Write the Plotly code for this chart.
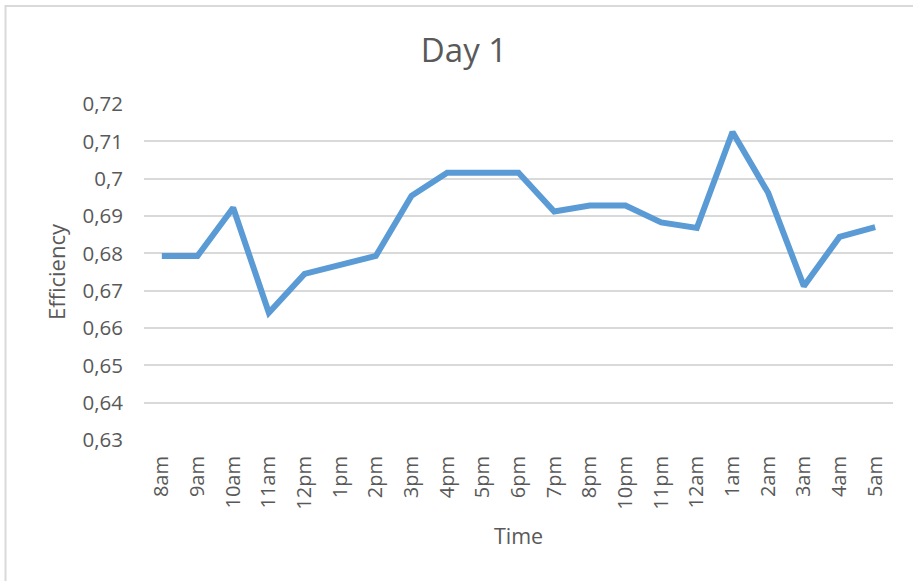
import plotly.graph_objects as go

times = ["8am", "9am", "10am", "11am", "12pm", "1pm", "2pm", "3pm", "4pm", "5pm", "6pm",
         "7pm", "8pm", "10pm", "11pm", "12am", "1am", "2am", "3am", "4am", "5am"]
efficiency = [0.6793, 0.6793, 0.6922, 0.6641, 0.6745, 0.6768, 0.6793, 0.6954, 0.7016, 0.7016, 0.7016,
              0.6912, 0.6928, 0.6928, 0.6883, 0.6868, 0.7125, 0.6962, 0.6712, 0.6844, 0.6870]
ytick_vals = [0.63, 0.64, 0.65, 0.66, 0.67, 0.68, 0.69, 0.70, 0.71, 0.72]
ytick_text = ["0,63", "0,64", "0,65", "0,66", "0,67", "0,68", "0,69", "0,7", "0,71", "0,72"]

FONT = "Open Sans"
GRAY = "#595959"

fig = go.Figure()
fig.add_trace(go.Scatter(
    x=times, y=efficiency, mode="lines",
    line=dict(color="#5b9bd5", width=6, shape="linear"),
    hoverinfo="x+y",
))

fig.update_layout(
    width=913, height=581,
    margin=dict(l=144, r=20, t=104, b=141, autoexpand=False),
    paper_bgcolor="white", plot_bgcolor="white",
    showlegend=False,
    separators=", ",
    title=dict(text="Day 1", x=464 / 913, xanchor="center", y=1 - 50 / 581, yanchor="middle",
               xref="container", yref="container", font=dict(family=FONT, size=33, color=GRAY)),
    xaxis=dict(
        type="category", range=[-0.5, len(times) - 0.5], automargin=False,
        showgrid=False, zeroline=False, showline=False,
        tickangle=-90, tickfont=dict(family=FONT, size=20, color=GRAY),
        ticks="outside", ticklen=7, tickcolor="rgba(0,0,0,0)",
        title=dict(text="Time", font=dict(family=FONT, size=21.5, color=GRAY), standoff=20),
    ),
    yaxis=dict(
        range=[0.63, 0.72], automargin=False,
        showgrid=True, gridcolor="#d9d9d9", gridwidth=1.5,
        zeroline=False, showline=False,
        tickvals=ytick_vals, ticktext=ytick_text,
        tickfont=dict(family=FONT, size=20.5, color=GRAY),
        ticklabelstandoff=20,
        title=dict(text="Efficiency", font=dict(family=FONT, size=22, color=GRAY), standoff=10),
    ),
    shapes=[dict(type="rect", xref="paper", yref="paper",
                 x0=(5.5 - 144) / 749, x1=1.2, y0=-0.6, y1=(440 - 6) / 336,
                 line=dict(color="#d9d9d9", width=2), layer="below")],
)

fig.write_html("out.html", config={"displayModeBar": False},
               post_script="document.body.style.margin='0';")
